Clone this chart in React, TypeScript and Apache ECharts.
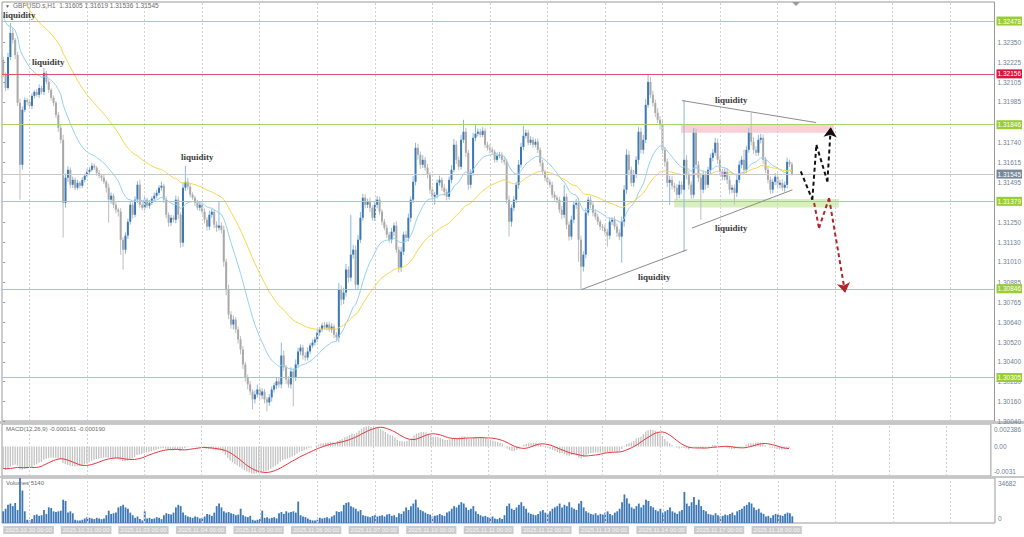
import React, { useEffect, useRef } from "react";
import * as echarts from "echarts";

// ---------- DATA (prices in points of 0.00001 above 1.30000) ----------
const BASE = 1.3;
const PT = 0.00001;
const FIRST_OPEN = 2241;
const CLOSES = [
  2150, 2070, 2259, 2405, 2363, 2271, 1979, 1602, 1937, 1997,
  1985, 1961, 2022, 2046, 2028, 2070, 2046, 2162, 2107, 2058,
  2010, 1979, 1906, 1827, 1754, 1370, 1523, 1571, 1480, 1510,
  1462, 1492, 1474, 1510, 1535, 1559, 1571, 1596, 1584, 1553,
  1535, 1523, 1498, 1462, 1389, 1413, 1358, 1328, 1316, 1145,
  1084, 1170, 1255, 1358, 1297, 1389, 1480, 1358, 1340, 1389,
  1352, 1370, 1395, 1413, 1431, 1462, 1474, 1389, 1297, 1249,
  1279, 1267, 1389, 1297, 1127, 1462, 1498, 1468, 1419, 1401,
  1370, 1340, 1358, 1316, 1267, 1225, 1297, 1316, 1237, 1218,
  1231, 1206, 1011, 841, 689, 628, 658, 598, 537, 476,
  385, 305, 263, 220, 172, 202, 232, 196, 220, 172,
  153, 184, 232, 257, 281, 263, 439, 366, 293, 263,
  342, 305, 385, 464, 488, 439, 427, 464, 500, 518,
  537, 579, 598, 622, 610, 628, 598, 616, 567, 549,
  841, 780, 823, 963, 914, 1054, 1084, 871, 1145, 1279,
  1401, 1358, 1377, 1340, 1279, 1358, 1389, 1316, 1255, 1218,
  1176, 1145, 1194, 1231, 1084, 975, 1072, 1176, 1157, 1279,
  1389, 1498, 1705, 1663, 1602, 1632, 1584, 1541, 1450, 1407,
  1419, 1492, 1510, 1462, 1437, 1407, 1510, 1571, 1724, 1632,
  1590, 1754, 1803, 1675, 1480, 1553, 1766, 1791, 1803, 1784,
  1809, 1724, 1705, 1693, 1681, 1632, 1657, 1663, 1632, 1620,
  1389, 1255, 1340, 1389, 1480, 1602, 1711, 1778, 1797, 1736,
  1754, 1724, 1742, 1693, 1614, 1559, 1523, 1498, 1480, 1419,
  1401, 1389, 1328, 1297, 1407, 1237, 1164, 1267, 1358, 1370,
  1145, 981, 1054, 1310, 1389, 1358, 1310, 1285, 1255, 1225,
  1218, 1194, 1170, 1255, 1267, 1225, 1188, 1164, 1255, 1450,
  1663, 1571, 1492, 1541, 1632, 1803, 1693, 1754, 1967, 2107,
  2028, 1979, 1918, 1876, 1845, 1693, 1620, 1492, 1510, 1474,
  1462, 1419, 1480, 1450, 1632, 1541, 1480, 1419, 1797, 1602,
  1523, 1450, 1541, 1480, 1571, 1644, 1675, 1736, 1632, 1559,
  1529, 1559, 1510, 1450, 1462, 1431, 1510, 1602, 1632, 1571,
  1693, 1797, 1742, 1693, 1675, 1754, 1766, 1632, 1571, 1510,
  1450, 1498, 1529, 1480, 1492, 1462, 1480, 1620, 1605, 1545,
];
const UP_WICKS = [
  20, 15, 25, 61, 30, 12, 18, 25, 20, 15,
  12, 20, 15, 10, 18, 22, 14, 30, 12, 16,
  10, 14, 12, 18, 20, 30, 25, 22, 15, 20,
  14, 18, 10, 16, 12, 20, 15, 18, 12, 10,
  15, 12, 18, 10, 25, 20, 14, 16, 12, 22,
  15, 20, 18, 25, 14, 20, 22, 30, 15, 18,
  12, 16, 14, 20, 18, 15, 25, 12, 20, 15,
  18, 14, 25, 20, 15, 30, 98, 25, 18, 14,
  12, 18, 16, 14, 20, 15, 25, 18, 12, 20,
  146, 20, 25, 18, 30, 20, 25, 15, 18, 20,
  22, 15, 18, 20, 14, 25, 30, 18, 20, 15,
  14, 20, 18, 16, 22, 25, 79, 30, 15, 20,
  25, 20, 30, 22, 18, 15, 20, 25, 14, 18,
  16, 20, 14, 18, 22, 15, 18, 20, 14, 16,
  40, 25, 30, 35, 20, 243, 30, 25, 28, 35,
  24, 20, 18, 25, 15, 20, 22, 18, 14, 16,
  20, 15, 22, 18, 25, 20, 30, 18, 22, 25,
  20, 35, 31, 25, 20, 28, 18, 22, 15, 20,
  18, 20, 25, 15, 22, 18, 20, 28, 35, 25,
  20, 30, 73, 25, 18, 22, 30, 54, 20, 18,
  22, 15, 18, 20, 16, 14, 20, 18, 15, 20,
  18, 25, 20, 22, 18, 30, 25, 61, 20, 18,
  22, 16, 18, 20, 15, 18, 14, 20, 16, 18,
  20, 15, 18, 22, 73, 20, 18, 25, 20, 22,
  30, 25, 20, 28, 18, 22, 15, 20, 18, 14,
  16, 20, 18, 25, 15, 20, 18, 22, 30, 28,
  35, 25, 20, 30, 22, 28, 25, 30, 35, 42,
  30, 25, 20, 28, 22, 25, 18, 20, 25, 22,
  18, 22, 25, 20, 365, 30, 25, 20, 30, 25,
  22, 28, 25, 20, 18, 25, 22, 30, 25, 20,
  18, 20, 22, 25, 18, 20, 28, 25, 22, 61,
  25, 30, 121, 28, 22, 30, 25, 20, 18, 22,
  20, 18, 22, 20, 18, 22, 20, 25, 14, 14,
];
const DOWN_WICKS = [
  15, 20, 12, 18, 22, 25, 20, 213, 30, 15,
  18, 14, 20, 16, 12, 18, 15, 20, 14, 18,
  16, 20, 18, 25, 22, 212, 30, 25, 20, 18,
  15, 12, 18, 14, 16, 12, 15, 10, 14, 18,
  16, 20, 14, 30, 140, 25, 20, 22, 30, 91,
  121, 25, 20, 18, 22, 15, 20, 18, 14, 16,
  15, 18, 14, 12, 16, 14, 18, 20, 22, 25,
  20, 18, 22, 25, 30, 25, 20, 18, 16, 14,
  18, 15, 20, 18, 22, 25, 20, 18, 22, 25,
  18, 22, 30, 35, 28, 25, 30, 22, 25, 30,
  28, 25, 30, 22, 61, 25, 20, 28, 22, 25,
  54, 20, 25, 18, 22, 20, 25, 22, 28, 20,
  25, 176, 20, 18, 22, 25, 20, 18, 16, 14,
  18, 15, 20, 16, 14, 18, 15, 20, 22, 25,
  30, 35, 28, 25, 30, 22, 25, 35, 28, 20,
  18, 22, 20, 25, 18, 20, 22, 18, 20, 15,
  20, 18, 22, 25, 20, 30, 25, 20, 18, 22,
  25, 20, 22, 30, 25, 20, 18, 22, 25, 20,
  49, 22, 18, 20, 25, 22, 18, 20, 15, 25,
  22, 18, 20, 25, 30, 22, 18, 20, 16, 15,
  14, 18, 16, 20, 15, 18, 14, 16, 20, 18,
  25, 91, 30, 22, 20, 25, 18, 20, 16, 15,
  15, 18, 16, 20, 22, 18, 20, 16, 18, 20,
  18, 22, 20, 25, 20, 28, 25, 19, 22, 25,
  134, 140, 30, 22, 18, 20, 22, 18, 20, 22,
  20, 18, 67, 22, 20, 18, 25, 22, 159, 30,
  25, 30, 22, 25, 20, 28, 22, 25, 20, 18,
  20, 22, 25, 20, 28, 25, 30, 25, 134, 22,
  25, 30, 22, 25, 378, 28, 30, 25, 22, 28,
  25, 183, 22, 28, 20, 25, 22, 18, 25, 22,
  20, 22, 25, 28, 22, 73, 25, 20, 22, 25,
  20, 18, 22, 25, 20, 18, 22, 25, 20, 22,
  25, 22, 20, 25, 22, 20, 25, 22, 18, 9,
];
const VOLUMES = [
  9000, 11000, 14000, 15000, 13000, 15500, 10000, 34682, 25000, 9000,
  2500, 2000, 3000, 6000, 6500, 5500, 6000, 10000, 7000, 12000,
  11500, 9000, 8500, 9000, 9500, 18000, 17000, 8000, 9000, 7500,
  2500, 2000, 2000, 2500, 3500, 4500, 4000, 3500, 3000, 4000,
  3500, 3000, 3500, 6000, 9500, 7000, 7500, 8000, 12000, 13000,
  14000, 12000, 11000, 8000, 6000, 4000, 5000, 3000, 2000, 9000,
  3500, 4000, 3000, 3500, 4500, 4000, 3000, 6000, 7500, 7000,
  6500, 8000, 12000, 14000, 13000, 8000, 6000, 5000, 4500, 4000,
  5000, 4500, 3500, 4000, 5000, 7000, 6500, 5500, 8000, 13000,
  15000, 12000, 9000, 8000, 8500, 7500, 7000, 6000, 6500, 11000,
  6000, 5000, 4500, 5500, 2500, 2000, 2500, 3000, 9500, 4000,
  4500, 3500, 4000, 4500, 3500, 7500, 8500, 7000, 9000, 8000,
  8500, 9000, 8000, 16500, 6000, 5000, 4500, 3500, 2500, 2000,
  2000, 2500, 4000, 3500, 4000, 4500, 3500, 5000, 6000, 9000,
  8500, 9000, 14000, 15500, 16000, 13000, 12000, 11000, 9000, 10000,
  6000, 5500, 5000, 4500, 5500, 6000, 5000, 5500, 6000, 5000,
  6500, 7000, 5500, 6000, 4500, 7500, 7000, 9000, 12000, 10000,
  13000, 15000, 18000, 12000, 10000, 9000, 8000, 7000, 6500, 5000,
  5500, 6000, 7000, 6000, 5500, 8000, 9000, 11000, 13000, 12000,
  14000, 16000, 15000, 12000, 10000, 11000, 13000, 9000, 7000, 6000,
  5000, 5500, 4500, 4000, 5000, 3500, 3000, 4000, 3000, 6000,
  13000, 15000, 11000, 10000, 12000, 14000, 16000, 13000, 11000, 8000,
  7000, 6500, 6000, 7000, 9000, 10000, 8000, 7000, 9000, 11000,
  12000, 13000, 15000, 12000, 14000, 13000, 16000, 12000, 11000, 10000,
  15000, 17000, 12000, 9000, 8000, 7000, 6500, 7500, 6000, 7000,
  6500, 8000, 9000, 7000, 6000, 8000, 9000, 11000, 16000, 22000,
  19000, 15000, 12000, 11000, 13000, 15000, 12000, 14000, 18000, 17000,
  13000, 12000, 10000, 9000, 11000, 8000, 9000, 10000, 12000, 9000,
  8000, 7000, 9000, 10000, 24000, 15000, 13000, 16000, 20000, 14000,
  18000, 13000, 10000, 9000, 7000, 6500, 6000, 7500, 6000, 5000,
  5500, 6500, 6000, 7000, 8000, 6000, 9000, 10000, 11000, 13000,
  14000, 16000, 15000, 12000, 10000, 11000, 8000, 7000, 5000, 5500,
  4000, 6000, 7000, 6500, 6000, 5500, 7000, 8000, 7500, 5140,
];

// indicator settings and starting values
const MA_FAST_PERIOD = 20;
const MA_FAST_SEED = 1.3255;
const MA_SLOW_PERIOD = 50;
const MA_SLOW_SEED = 1.3284;
const MACD_EMA12_SEED = 1.3245;
const MACD_EMA26_SEED = 1.3268;

// axes
const PRICE_MIN = 1.3004;
const PRICE_MAX = 1.32594;
const PRICE_TICKS = [1.3235, 1.32225, 1.32105, 1.31985, 1.3174, 1.31615, 1.31495, 1.3125, 1.3113, 1.3101, 1.30885, 1.30765, 1.3064, 1.3052, 1.304, 1.3028, 1.3016, 1.3004];
const MACD_MIN = -0.0031;
const MACD_MAX = 0.002386;
const MACD_TICKS = [0.002386, 0, -0.0031];
const MACD_TICK_LABELS = ["0.002386", "0.00", "-0.0031"];
const VOL_MAX = 34682;
const VOL_TICKS = [34682, 0];
const DATE_BARS = [0, 24, 48, 72, 96, 120, 144, 168, 192, 216, 240, 264, 288, 312];
const DATE_LABELS = ["2025.10.30 00:00", "2025.10.31 00:00", "2025.11.03 00:00", "2025.11.04 00:00", "2025.11.05 00:00", "2025.11.06 00:00", "2025.11.07 00:00", "2025.11.10 00:00", "2025.11.11 00:00", "2025.11.12 00:00", "2025.11.13 00:00", "2025.11.14 00:00", "2025.11.17 00:00", "2025.11.18 00:00"];
const GRID_BARS = [11, 35, 59, 83, 107, 131, 155, 179, 203, 227, 251, 275, 299, 323, 347, 371, 395];
const SLOTS = 414;

// horizontal levels
const LEVEL_PRICES = [1.32478, 1.32156, 1.31846, 1.31545, 1.31379, 1.30846, 1.30305];
const LEVEL_KINDS = ["green", "red", "green", "bid", "green", "green", "green"];

// drawings (bar index, price)
const TREND_LINES = [
  [[241.2, 1.30841], [285.3, 1.31084]],
  [[283.2, 1.31993], [339.1, 1.31859]],
  [[287.3, 1.31216], [329.2, 1.31449]],
];
const ARROW_UP = [[332.7, 1.31561], [337.5, 1.31389], [339.2, 1.31723], [343.8, 1.315], [345.2, 1.31831]];
const ARROW_DOWN = [[338.25, 1.31369], [340.3, 1.31216], [344.5, 1.31399], [351.2, 1.30821]];
const ZONE_SELL = [[282.7, 1.31845], [346.5, 1.31797]];
const ZONE_BUY = [[279.9, 1.31393], [348.7, 1.31342]];

const LIQ_TEXT = "liquidity";

const COLORS = {
  bull: "#3d78b6",
  bear: "#a9a9a9",
  bullWick: "#8fb6dc",
  bearWick: "#bdbdbd",
  maFast: "#96d0f0",
  maSlow: "#f7d64a",
  green: "#a9d46b",
  greenTag: "#9acd32",
  red: "#e4506b",
  redTag: "#dc143c",
  bid: "#c8c8c8",
  bidTag: "#778899",
  axisText: "#6f7f95",
  grid: "#cfcfcf",
};

function ema(values: number[], period: number, seed: number) {
  const a = 2 / (period + 1);
  let e = seed;
  return values.map((v) => (e = e + a * (v - e)));
}

export default function App() {
  const ref = useRef<HTMLDivElement>(null);
  useEffect(() => {
    if (!ref.current) return;
    const chart = echarts.init(ref.current, undefined, { renderer: "svg" });

    const closeP = CLOSES.map((v) => BASE + v * PT);
    const ohlc = CLOSES.map((c, i) => {
      const o = i === 0 ? FIRST_OPEN : CLOSES[i - 1];
      const h = Math.max(o, c) + UP_WICKS[i];
      const l = Math.min(o, c) - DOWN_WICKS[i];
      return [i, BASE + o * PT, BASE + c * PT, BASE + l * PT, BASE + h * PT];
    });
    const maFast = ema(closeP, MA_FAST_PERIOD, MA_FAST_SEED);
    const maSlow = ema(closeP, MA_SLOW_PERIOD, MA_SLOW_SEED);
    const e12 = ema(closeP, 12, MACD_EMA12_SEED);
    const e26 = ema(closeP, 26, MACD_EMA26_SEED);
    const macd = e12.map((v, i) => v - e26[i]);
    const macdSeed = MACD_EMA12_SEED - MACD_EMA26_SEED;
    const signal = macd.map((_, i) => {
      let s = 0;
      for (let k = 0; k < 9; k++) {
        const j = i - k;
        s += j >= 0 ? macd[j] : macdSeed;
      }
      return s / 9;
    });

    const tagColor: Record<string, string> = { green: COLORS.greenTag, red: COLORS.redTag, bid: COLORS.bidTag };
    const lineColor: Record<string, string> = { green: COLORS.green, red: COLORS.red, bid: COLORS.bid };

    const gridLineData = GRID_BARS.map((b) => ({ xAxis: b }));
    const gridMarkLine = {
      silent: true,
      symbol: ["none", "none"],
      precision: 5,
      label: { show: false },
      lineStyle: { color: COLORS.grid, type: [2, 2], width: 1 },
      data: gridLineData,
      animation: false,
    };

    const arrowSegments = (pts: number[][]) =>
      pts.slice(0, -1).map((p, k) => {
        const last = k === pts.length - 2;
        return [
          { coord: p, symbol: "none" },
          { coord: pts[k + 1], symbol: last ? "arrow" : "none", symbolSize: last ? 10 : 0 },
        ];
      });

    const axisFont = { fontSize: 6.5, color: COLORS.axisText, fontFamily: "Liberation Sans" };
    const xAxisBase = { type: "value", min: -0.5, max: SLOTS - 0.5, splitLine: { show: false }, axisLine: { show: false }, axisTick: { show: false } };

    const option: any = {
      animation: false,
      backgroundColor: "#ffffff",
      textStyle: { fontFamily: "Liberation Sans" },
      grid: [
        { left: 2, right: 29, top: 2, height: 419, show: true, borderColor: "#9a9a9a", borderWidth: 1, backgroundColor: "transparent" },
        { left: 2, right: 29, top: 424, height: 52, show: true, borderColor: "#9a9a9a", borderWidth: 1 },
        { left: 2, right: 29, top: 478, height: 45, show: true, borderColor: "#9a9a9a", borderWidth: 1 },
      ],
      xAxis: [
        { ...xAxisBase, gridIndex: 0, axisLabel: { show: false } },
        { ...xAxisBase, gridIndex: 1, axisLabel: { show: false } },
        {
          ...xAxisBase,
          gridIndex: 2,
          axisLabel: {
            show: true,
            customValues: DATE_BARS,
            formatter: (v: number) => {
              const k = DATE_BARS.indexOf(Math.round(v));
              return k >= 0 ? DATE_LABELS[k] : "";
            },
            align: "left",
            margin: 3,
            fontSize: 6,
            color: "#f7f7f7",
            backgroundColor: "#cbcbcb",
            padding: [1, 2, 1, 2],
            fontFamily: "Liberation Sans",
          },
        },
      ],
      yAxis: [
        {
          type: "value",
          gridIndex: 0,
          position: "right",
          min: PRICE_MIN,
          max: PRICE_MAX,
          splitLine: { show: false },
          axisLine: { show: false },
          axisTick: { show: true, length: 2, customValues: PRICE_TICKS, lineStyle: { color: "#8a94a4" } },
          axisLabel: { ...axisFont, margin: 3, customValues: PRICE_TICKS, formatter: (v: number) => v.toFixed(5) },
        },
        {
          type: "value",
          gridIndex: 1,
          position: "right",
          min: MACD_MIN,
          max: MACD_MAX,
          splitLine: { show: false },
          axisLine: { show: false },
          axisTick: { show: false },
          axisLabel: {
            ...axisFont,
            margin: 3,
            customValues: MACD_TICKS,
            formatter: (v: number) => {
              const k = MACD_TICKS.findIndex((t) => Math.abs(t - v) < 1e-9);
              const txt = k >= 0 ? MACD_TICK_LABELS[k] : "";
              return k === 0 ? `{t|${txt}}` : k === 2 ? `{b|${txt}}` : `{m|${txt}}`;
            },
            rich: {
              t: { ...axisFont, padding: [10, 0, 0, 0] },
              b: { ...axisFont, padding: [0, 0, 10, 0] },
              m: { ...axisFont },
            },
          },
        },
        {
          type: "value",
          gridIndex: 2,
          position: "right",
          min: 0,
          max: VOL_MAX,
          splitLine: { show: false },
          axisLine: { show: false },
          axisTick: { show: false },
          axisLabel: {
            ...axisFont,
            margin: 3,
            customValues: VOL_TICKS,
            formatter: (v: number) => (v > 0 ? `{t|${Math.round(v)}}` : `{b|${Math.round(v)}}`),
            rich: {
              t: { ...axisFont, padding: [10, 0, 0, 0] },
              b: { ...axisFont, padding: [0, 0, 10, 0] },
            },
          },
        },
      ],
      series: [
        {
          name: "levels",
          type: "line",
          xAxisIndex: 0,
          yAxisIndex: 0,
          data: [[0, closeP[0]]],
          showSymbol: false,
          symbol: "none",
          lineStyle: { opacity: 0 },
          silent: true,
          z: 1,
          markLine: {
            silent: true,
            symbol: ["none", "none"],
            precision: 5,
            animation: false,
            data: [
              ...gridLineData.map((d) => ({ ...d, lineStyle: { color: COLORS.grid, type: [2, 2], width: 1 }, label: { show: false } })),
              ...LEVEL_PRICES.map((p, k) => ({
                yAxis: p,
                lineStyle: { color: lineColor[LEVEL_KINDS[k]], width: 1, type: "solid" },
                label: {
                  show: true,
                  position: "end",
                  distance: 2,
                  formatter: p.toFixed(5),
                  backgroundColor: tagColor[LEVEL_KINDS[k]],
                  color: "#ffffff",
                  fontSize: 6.5,
                  fontFamily: "Liberation Sans",
                  padding: [1, 1, 1, 1],
                },
              })),
            ],
          },
          markArea: {
            silent: true,
            data: [
              [{ coord: ZONE_SELL[0], itemStyle: { color: "rgba(246,170,180,0.55)" } }, { coord: ZONE_SELL[1] }],
              [{ coord: ZONE_BUY[0], itemStyle: { color: "rgba(190,228,150,0.6)" } }, { coord: ZONE_BUY[1] }],
            ],
          },
        },
        {
          name: "candles",
          type: "custom",
          xAxisIndex: 0,
          yAxisIndex: 0,
          data: ohlc,
          encode: { x: 0, y: [1, 2, 3, 4] },
          z: 2,
          silent: true,
          renderItem: (_params: any, api: any) => {
            const i = api.value(0);
            const o = api.value(1);
            const c = api.value(2);
            const l = api.value(3);
            const h = api.value(4);
            const po = api.coord([i, o]);
            const pc = api.coord([i, c]);
            const pl = api.coord([i, l]);
            const ph = api.coord([i, h]);
            const bull = c >= o;
            const x = po[0];
            const top = Math.min(po[1], pc[1]);
            const bh = Math.max(1, Math.abs(po[1] - pc[1]));
            return {
              type: "group",
              children: [
                { type: "line", shape: { x1: x, y1: ph[1], x2: x, y2: pl[1] }, style: { stroke: bull ? COLORS.bullWick : COLORS.bearWick, lineWidth: 1 } },
                { type: "rect", shape: { x: x - 1, y: top, width: 2, height: bh }, style: { fill: bull ? COLORS.bull : COLORS.bear } },
              ],
            };
          },
        },
        {
          name: "ma-fast",
          type: "line",
          xAxisIndex: 0,
          yAxisIndex: 0,
          data: maFast.map((v, i) => [i, v]),
          showSymbol: false,
          lineStyle: { color: COLORS.maFast, width: 1 },
          z: 3,
          silent: true,
        },
        {
          name: "ma-slow",
          type: "line",
          xAxisIndex: 0,
          yAxisIndex: 0,
          data: maSlow.map((v, i) => [i, v]),
          showSymbol: false,
          lineStyle: { color: COLORS.maSlow, width: 1 },
          z: 3,
          silent: true,
        },
        {
          name: "drawings",
          type: "line",
          xAxisIndex: 0,
          yAxisIndex: 0,
          data: [[0, closeP[0]]],
          showSymbol: false,
          symbol: "none",
          lineStyle: { opacity: 0 },
          silent: true,
          z: 5,
          markLine: {
            silent: true,
            symbol: ["none", "none"],
            precision: 5,
            animation: false,
            label: { show: false },
            data: [
              ...TREND_LINES.map((seg) => [
                { coord: seg[0], lineStyle: { color: "#8c8c8c", width: 1, type: "solid" } },
                { coord: seg[1] },
              ]),
              ...arrowSegments(ARROW_UP).map((seg) => [{ ...seg[0], lineStyle: { color: "#111111", width: 2, type: [4, 3] } }, seg[1]]),
              ...arrowSegments(ARROW_DOWN).map((seg) => [{ ...seg[0], lineStyle: { color: "#b0262c", width: 2, type: [4, 3] } }, seg[1]]),
            ],
          },
        },
        {
          name: "macd",
          type: "bar",
          xAxisIndex: 1,
          yAxisIndex: 1,
          data: macd.map((v, i) => [i, v]),
          barWidth: 1.3,
          itemStyle: { color: "#c2c2c2" },
          silent: true,
          markLine: gridMarkLine,
        },
        {
          name: "signal",
          type: "line",
          xAxisIndex: 1,
          yAxisIndex: 1,
          data: signal.map((v, i) => [i, v]),
          showSymbol: false,
          lineStyle: { color: "#e8343c", width: 1 },
          silent: true,
        },
        {
          name: "volumes",
          type: "bar",
          xAxisIndex: 2,
          yAxisIndex: 2,
          data: VOLUMES.map((v, i) => [i, v]),
          barWidth: 1.8,
          itemStyle: { color: "#3d78b6" },
          silent: true,
          markLine: gridMarkLine,
        },
      ],
      graphic: [
        { type: "rect", shape: { x: 0, y: 421, width: 1024, height: 3 }, style: { fill: "#c6c6c6" }, silent: true },
        { type: "rect", shape: { x: 0, y: 476, width: 1024, height: 2 }, style: { fill: "#c6c6c6" }, silent: true },
        { type: "polygon", shape: { points: [[792, 2], [800, 2], [796, 6]] }, style: { fill: "#9a9a9a" }, silent: true },
        { type: "text", left: 5, top: 3, style: { text: "▼", fontSize: 5, fill: "#666666" }, silent: true },
        { type: "text", left: 13, top: 2, style: { text: "GBPUSD.s,H1  1.31605 1.31619 1.31536 1.31545", fontSize: 6.5, fill: "#6a6a6a", fontFamily: "Liberation Sans" }, silent: true },
        { type: "text", left: 6, top: 426, style: { text: "MACD(12,26,9) -0.000161 -0.000190", fontSize: 6, fill: "#6a6a6a", fontFamily: "Liberation Sans" }, silent: true },
        { type: "text", left: 6, top: 480, style: { text: "Volumes 5140", fontSize: 6, fill: "#6a6a6a", fontFamily: "Liberation Sans" }, silent: true },
        ...[
          [3, 10],
          [32, 57],
          [181, 152],
          [715, 95],
          [715, 223],
          [638, 272],
        ].map(([x, y]) => ({
          type: "text",
          left: x,
          top: y,
          z: 10,
          silent: true,
          style: { text: LIQ_TEXT, fontSize: 9, fontWeight: "bold", fill: "#3a3a3a", fontFamily: "Liberation Serif" },
        })),
      ],
    };
    chart.setOption(option);
    return () => chart.dispose();
  }, []);
  return <div ref={ref} style={{ position: "fixed", left: 0, top: 0, width: 1024, height: 537, background: "#fff" }} />;
}
